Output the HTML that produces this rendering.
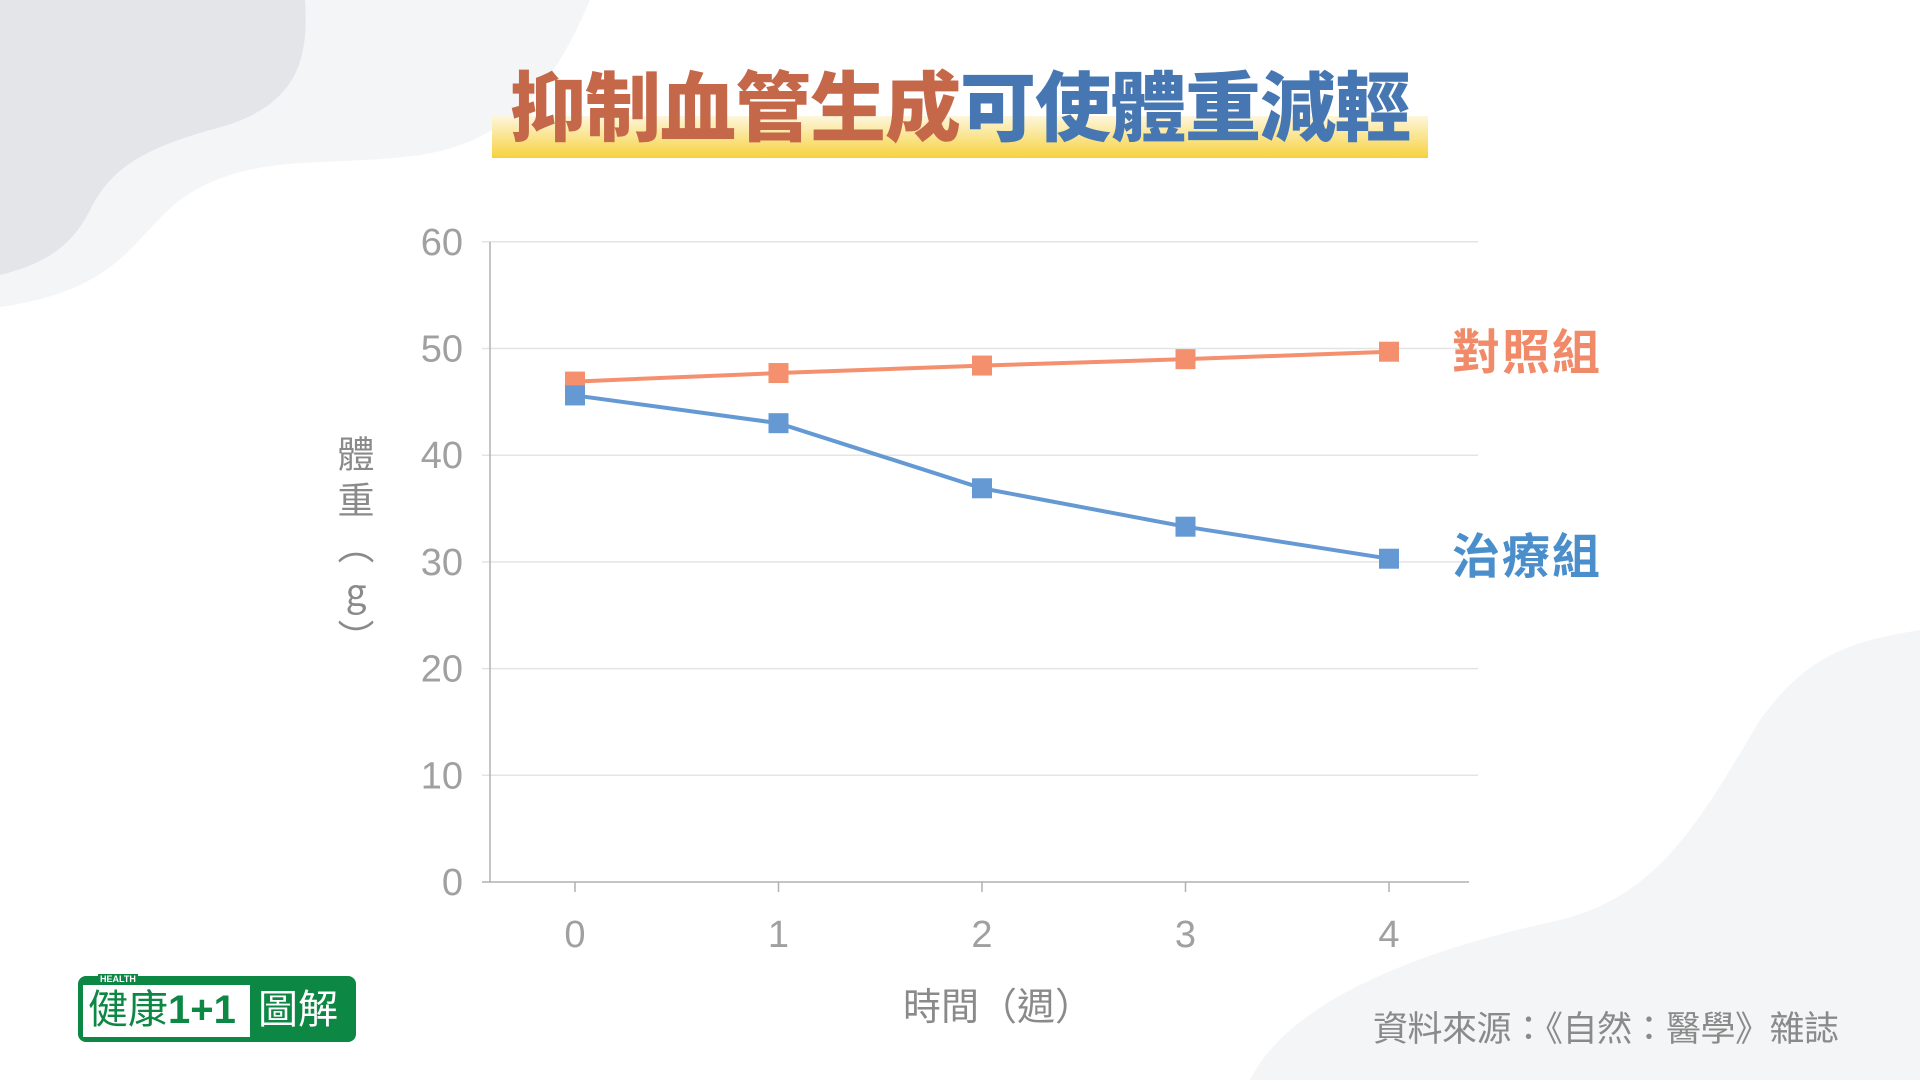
<!DOCTYPE html>
<html><head><meta charset="utf-8">
<style>
html,body{margin:0;padding:0}
body{width:1920px;height:1080px;position:relative;overflow:hidden;background:#fff;font-family:"Liberation Sans","Noto Sans CJK TC",sans-serif}
.abs{position:absolute}
#title{left:490px;top:52px;width:940px;height:110px}
#title-bar{position:absolute;left:2px;top:64px;width:936px;height:42px;background:linear-gradient(#fdf6dc,#f7d23e)}
#title-text{position:absolute;left:0;top:0;width:940px;text-align:center;font-family:"Noto Sans CJK TC",sans-serif;font-weight:900;font-size:76px;line-height:100px;white-space:nowrap;letter-spacing:-1px}
</style></head>
<body>
<svg class="abs" style="left:0;top:0" width="1920" height="1080">
<path d="M0,0 L590,0 C560,70 520,140 420,155 C330,168 250,150 180,200 C130,240 120,290 0,307 Z" fill="#f4f5f7"/>
<path d="M0,0 L305,0 C310,70 290,110 210,130 C140,150 110,170 90,210 C70,250 40,265 0,275 Z" fill="#e3e5e9"/>
<path d="M1250,1080 C1290,1000 1420,950 1560,920 C1660,895 1700,820 1760,720 C1810,650 1860,640 1920,630 L1920,1080 Z" fill="#f4f5f7"/>
</svg>
<div id="title" class="abs">
 <div id="title-bar"></div>
 <div id="title-text"><span style="color:#c5684a">抑制血管生成</span><span style="color:#4677b2">可使體重減輕</span></div>
</div>
<svg id="chart" class="abs" style="left:0;top:0" width="1920" height="1080"></svg>
<div class="abs" style="left:334px;top:435px;width:44px;height:300px;white-space:nowrap;font-size:37px;line-height:44px;color:#8a8a8a;writing-mode:vertical-rl;text-orientation:upright;font-family:'Noto Sans CJK TC',sans-serif;letter-spacing:9px">體重（g）</div>
<div class="abs" style="left:830px;top:976px;width:300px;text-align:center;font-size:38px;color:#8a8a8a;font-family:'Noto Sans CJK TC',sans-serif;padding-left:18px">時間（週）</div>
<div class="abs" style="left:1452px;top:313px;font-size:48px;font-weight:bold;color:#f08a68;font-family:'Noto Sans CJK TC',sans-serif;letter-spacing:2px">對照組</div>
<div class="abs" style="left:1452px;top:517px;font-size:48px;font-weight:bold;color:#4a8fcc;font-family:'Noto Sans CJK TC',sans-serif;letter-spacing:2px">治療組</div>
<div class="abs" style="left:1373px;top:1001px;font-size:35px;color:#8a8a8a;white-space:nowrap;font-family:'Noto Sans CJK TC',sans-serif;letter-spacing:-0.5px">資料來源：《自然：醫學》雜誌</div>
<div class="abs" style="left:78px;top:976px;width:278px;height:66px;background:#0c8744;border-radius:8px 8px 8px 8px">
 <div style="position:absolute;left:5px;top:9px;width:167px;height:52px;background:#fff"></div>
 <div style="position:absolute;left:20px;top:-2px;font-size:9px;font-weight:bold;color:#fff;background:#0c8744;padding:0 2px">HEALTH</div>
 <div style="position:absolute;left:10px;top:8px;font-size:40px;line-height:52px;color:#0c8744;white-space:nowrap">健康<b>1+1</b></div>
 <div style="position:absolute;left:180px;top:8px;font-size:40px;line-height:52px;color:#fff;white-space:nowrap">圖解</div>
</div>
<script>
const weeks=[0,1,2,3,4];
const controlValues=[46.9,47.7,48.4,49.0,49.7];
const treatmentValues=[45.6,43.0,36.9,33.3,30.3];
const yTicks=[0,10,20,30,40,50,60];
const xTickLabels=["0","1","2","3","4"];
const NS="http://www.w3.org/2000/svg";
const svg=document.getElementById('chart');
const X0=575,XS=203.5,Y0=882,YS=10.67;
function xs(v){return X0+v*XS}
function ys(v){return Y0-v*YS}
function mk(t,a){const e=document.createElementNS(NS,t);for(const k in a)e.setAttribute(k,a[k]);svg.appendChild(e);return e}
yTicks.forEach(t=>{
 if(t>0){const g=mk('line',{x1:482,x2:1478,y1:ys(t),y2:ys(t),stroke:'#e4e4e4','stroke-width':1.5});
 
 }
 const l=mk('text',{x:463,y:ys(t)+13,'text-anchor':'end','font-size':38,fill:'#a0a0a0','font-family':'Liberation Sans, sans-serif'});
 l.textContent=t;
 
 
});
const ya=mk('line',{x1:490,x2:490,y1:242,y2:882,stroke:'#b0b0b0','stroke-width':1.5});


const xa=mk('line',{x1:482,x2:1469,y1:882,y2:882,stroke:'#b0b0b0','stroke-width':1.5});


weeks.forEach((w,i)=>{
 const tk=mk('line',{x1:xs(w),x2:xs(w),y1:882,y2:892,stroke:'#b0b0b0','stroke-width':1.5});
 
 
 const l=mk('text',{x:xs(w),y:947,'text-anchor':'middle','font-size':38,fill:'#a0a0a0','font-family':'Liberation Sans, sans-serif'});
 l.textContent=xTickLabels[i];
 
 
});
function series(vals,color,name){
 const p=mk('polyline',{points:vals.map((v,i)=>xs(weeks[i])+','+ys(v)).join(' '),fill:'none',stroke:color,'stroke-width':4});
 
 
 vals.forEach((v,i)=>{
  const r=mk('rect',{x:xs(weeks[i])-10,y:ys(v)-10,width:20,height:20,fill:color});
  
  
 });
}
series(controlValues,'#f4906e','control');
series(treatmentValues,'#6499d4','treatment');
</script>
</body></html>
